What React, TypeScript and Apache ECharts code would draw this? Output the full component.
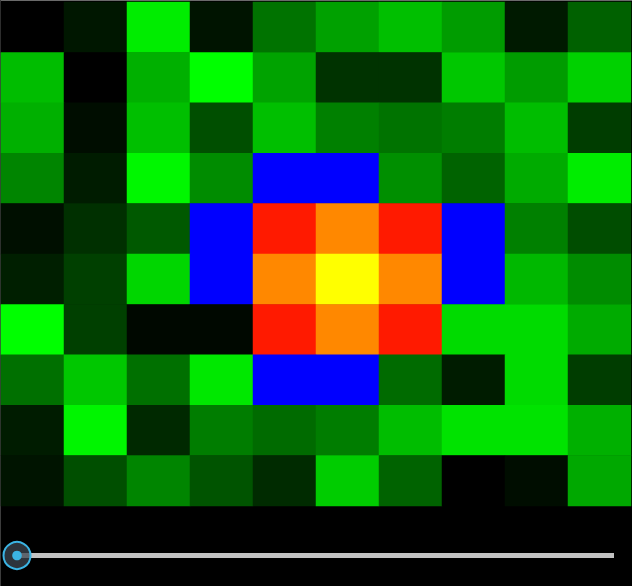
import React, { useEffect, useRef } from "react";
import * as echarts from "echarts";

// Column and row categories
const xCategories = ["0", "1", "2", "3", "4", "5", "6", "7", "8", "9"];
const yCategories = ["0", "1", "2", "3", "4", "5", "6", "7", "8", "9"];

// Cell values, row by row from the top (0..1 = black→green, 2 = blue, 3 = red, 4 = orange, 5 = yellow)
const row0 = [0.0, 0.09, 0.93, 0.08, 0.45, 0.63, 0.75, 0.61, 0.1, 0.38];
const row1 = [0.74, 0.0, 0.69, 1.0, 0.64, 0.2, 0.2, 0.78, 0.61, 0.82];
const row2 = [0.69, 0.05, 0.75, 0.31, 0.75, 0.5, 0.45, 0.49, 0.74, 0.24];
const row3 = [0.52, 0.11, 0.97, 0.55, 2, 2, 0.56, 0.39, 0.67, 0.93];
const row4 = [0.06, 0.19, 0.35, 2, 3, 4, 3, 2, 0.5, 0.3];
const row5 = [0.12, 0.25, 0.84, 2, 4, 5, 4, 2, 0.72, 0.55];
const row6 = [1.0, 0.25, 0.03, 0.03, 3, 4, 3, 0.86, 0.86, 0.67];
const row7 = [0.44, 0.78, 0.44, 0.91, 2, 2, 0.42, 0.11, 0.86, 0.24];
const row8 = [0.11, 0.96, 0.16, 0.49, 0.42, 0.49, 0.74, 0.89, 0.89, 0.69];
const row9 = [0.08, 0.31, 0.52, 0.33, 0.17, 0.8, 0.39, 0.0, 0.05, 0.66];

const rows = [row0, row1, row2, row3, row4, row5, row6, row7, row8, row9];

const palette = ["#000000", "#00ff00", "#0000ff", "#ff1a00", "#ff8800", "#ffff00"];

export default function App() {
  const ref = useRef<HTMLDivElement>(null);

  useEffect(() => {
    document.body.style.margin = "0";
    document.body.style.background = "#000";
    const chart = echarts.init(ref.current!, null, { renderer: "svg" });

    const data: [number, number, number][] = [];
    rows.forEach((r, yi) => r.forEach((v, xi) => data.push([xi, yi, v])));

    chart.setOption({
      animation: false,
      backgroundColor: "#000000",
      tooltip: { show: false },
      grid: { left: 1, right: 1, top: 2, height: 504, containLabel: false },
      xAxis: {
        type: "category",
        data: xCategories,
        show: false,
      },
      yAxis: {
        type: "category",
        data: yCategories,
        inverse: true,
        show: false,
      },
      visualMap: {
        show: false,
        type: "continuous",
        min: 0,
        max: 5,
        inRange: { color: palette },
      },
      series: [
        {
          type: "heatmap",
          data,
          itemStyle: { borderWidth: 0 },
          emphasis: { disabled: true },
          progressive: 0,
        },
      ],
      graphic: [
        {
          type: "line",
          shape: { x1: 0, y1: 0.5, x2: 632, y2: 0.5 },
          style: { stroke: "#6a6a6a", lineWidth: 1 },
          silent: true,
        },
        {
          type: "line",
          shape: { x1: 0.5, y1: 0, x2: 0.5, y2: 586 },
          style: { stroke: "#3c3c3c", lineWidth: 1 },
          silent: true,
        },
        {
          type: "rect",
          shape: { x: 17, y: 553, width: 597, height: 5 },
          style: { fill: "#c2c2c2" },
          silent: true,
        },
        {
          type: "circle",
          shape: { cx: 17, cy: 555.5, r: 13.5 },
          style: { fill: "rgba(60,70,80,0.75)", stroke: "#3bb4e4", lineWidth: 2 },
          silent: true,
        },
        {
          type: "circle",
          shape: { cx: 17, cy: 555.5, r: 4.8 },
          style: { fill: "#3bb4e4" },
          silent: true,
        },
      ],
    });

    return () => chart.dispose();
  }, []);

  return <div ref={ref} style={{ width: 632, height: 586 }} />;
}
